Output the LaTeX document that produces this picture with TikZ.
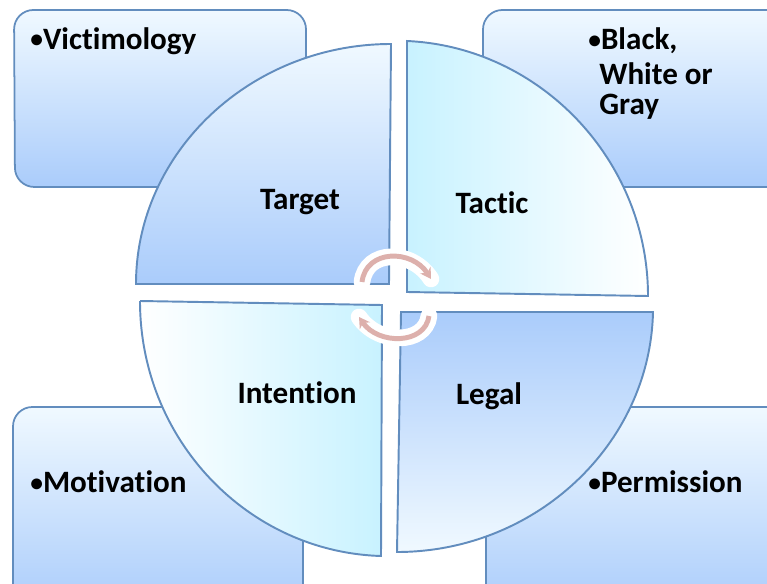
\documentclass[tikz,border=0pt]{standalone}
\usepackage{fontspec}
\setmainfont[Ligatures=NoCommon]{Carlito}
\usetikzlibrary{arrows.meta}
\definecolor{pale}{HTML}{F0F9FF}
\definecolor{deep}{HTML}{AACCFB}
\definecolor{cyanish}{HTML}{C8F2FF}
\definecolor{cyanmid}{HTML}{EEFFFF}
\definecolor{edgeblue}{HTML}{628DBE}
\definecolor{cyclepink}{HTML}{DDB0AC}
\newcommand{\smallbullet}{\raisebox{0.8pt}{\fontsize{14.5}{14.5}\selectfont •}}
\begin{document}
\begin{tikzpicture}[x=0.02cm,y=-0.02cm,
    box/.style={draw=edgeblue,line width=1pt,rounded corners=11pt,top color=pale,bottom color=deep},
    quarter/.style={draw=edgeblue,line width=1.1pt},
    main text/.style={font=\bfseries\fontsize{17.7}{20}\selectfont,text=black,inner sep=0pt},
    halo/.style={white,line width=9.5pt,line cap=round},
    cycle/.style={cyclepink,line width=2.8pt,-{Stealth[length=6pt,width=7pt]}}]
    \clip (0,0) rectangle (767,584);

    % boxes behind the circle
    \draw[box] (14,10) -- (306,10) -- (306,187) -- (15,187) -- cycle;
    \draw[box] (483,10) -- (790,10) -- (790,187) -- (483,187) -- cycle;
    \draw[box] (13,407) -- (303,407) -- (303,610) -- (13,610) -- cycle;
    \draw[box] (486,407) -- (790,407) -- (790,610) -- (486,610) -- cycle;

    % the four quarters
    \draw[quarter,top color=pale,bottom color=deep] (136,284) .. controls (136,152) and (251,44) .. (391,44) -- (389,284) -- cycle;
    \draw[quarter,left color=cyanish,middle color=cyanmid,right color=white] (407,41) .. controls (540,47) and (648,160) .. (648,296) -- (407,292) -- cycle;
    \draw[quarter,left color=white,middle color=cyanmid,right color=cyanish] (140,301) -- (382,305) -- (381,556) .. controls (248,552) and (140,440) .. (140,301);
    \draw[quarter,top color=deep,bottom color=pale] (401,312) -- (653,312) .. controls (650,445) and (535,552) .. (397,552) -- cycle;

    \node[main text,anchor=west] at (30,41) (victimology) {\smallbullet Victimology};
    \node[main text,anchor=west] at (588,41) (black) {\smallbullet Black,};
    \node[main text,anchor=west] at (599,74) (white) {White or};
    \node[main text,anchor=west] at (599,107) (gray) {Gray};
    \node[main text,anchor=west] at (30,482) (motivation) {\smallbullet Motivation};
    \node[main text,anchor=west] at (588,482) (permission) {\smallbullet Permission};
    \node[main text] at (300,202) (target) {Target};
    \node[main text] at (492,203) (tactic) {Tactic};
    \node[main text] at (297,393) (intention) {Intention};
    \node[main text] at (489,396) (legal) {Legal};

    \coordinate (up start) at (362,282);
    \coordinate (up end) at (431,279);
    \coordinate (low start) at (429,316);
    \coordinate (low end) at (359,317);

    \draw[halo] (up start) .. controls (366,249) and (412,249) .. (up end);
    \draw[halo] (low start) .. controls (425,345) and (378,345) .. (low end);
    \draw[cycle] (up start) .. controls (366,249) and (412,249) .. (up end);
    \draw[cycle] (low start) .. controls (425,345) and (378,345) .. (low end);
\end{tikzpicture}
\end{document}
